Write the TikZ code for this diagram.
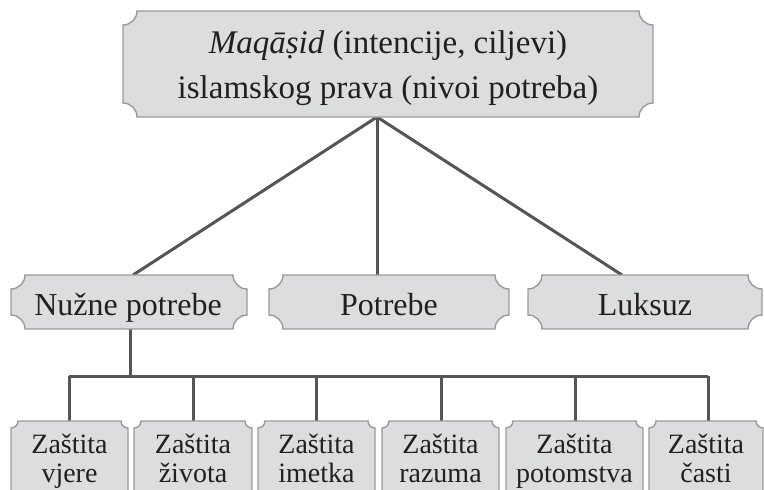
\documentclass[tikz,border=0pt]{standalone}
\usepackage{fontspec}
\setmainfont{Liberation Serif}
\definecolor{boxfill}{HTML}{DCDDDF}
\definecolor{boxedge}{HTML}{9A9A9A}
\definecolor{linkc}{HTML}{555557}
\definecolor{txt}{HTML}{231F20}
\newcommand\cbox[5]{\draw[boxline] (#1+#5,#2) -- (#3-#5,#2)
  .. controls (#3-#5,#2+0.55*#5) and (#3-0.55*#5,#2+#5) .. (#3,#2+#5) -- (#3,#4-#5)
  .. controls (#3-0.55*#5,#4-#5) and (#3-#5,#4-0.55*#5) .. (#3-#5,#4) -- (#1+#5,#4)
  .. controls (#1+#5,#4-0.55*#5) and (#1+0.55*#5,#4-#5) .. (#1,#4-#5) -- (#1,#2+#5)
  .. controls (#1+0.55*#5,#2+#5) and (#1+#5,#2+0.55*#5) .. cycle;}
\begin{document}
\begin{tikzpicture}[x=1pt,y=-1pt,
  boxline/.style={draw=boxedge,fill=boxfill,line width=1.4pt},
  link/.style={draw=linkc,line width=3pt},
  toptext/.style={anchor=base,inner sep=0pt,text=txt,font=\fontsize{33}{40}\selectfont},
  midtext/.style={anchor=base,inner sep=0pt,text=txt,font=\fontsize{32}{38}\selectfont},
  bottext/.style={anchor=base,inner sep=0pt,text=txt,font=\fontsize{28}{34}\selectfont}]
\useasboundingbox (0,0) rectangle (764,490);
\clip (0,0) rectangle (764,490);
% connection points
\coordinate (ts) at (377,117);
\coordinate (n1n) at (133,275);
\coordinate (n2n) at (377,275);
\coordinate (n3n) at (622,275);
\coordinate (n1s) at (130,329);
\coordinate (bus) at (130,376);
\coordinate (busl) at (69,376);
\coordinate (busr) at (708,376);
\coordinate (b1n) at (69,421);
\coordinate (b2n) at (193,421);
\coordinate (b3n) at (316,421);
\coordinate (b4n) at (441,421);
\coordinate (b5n) at (575,421);
\coordinate (b6n) at (708,421);
% connectors
\draw[link] (ts) -- (n1n);
\draw[link] (ts) -- (n2n);
\draw[link] (ts) -- (n3n);
\draw[link] (n1s) -- (bus);
\draw[link] (busl) -- (busr);
\foreach \b in {b1n,b2n,b3n,b4n,b5n,b6n}{\draw[link] (\b |- bus) -- (\b);}
% boxes
\cbox{123}{11}{653}{117}{14}
\cbox{11}{275}{247}{329}{14}
\cbox{269}{275}{509}{329}{14}
\cbox{528}{275}{762}{329}{14}
\cbox{11}{421}{128}{510}{7}
\cbox{134}{421}{252}{510}{7}
\cbox{258}{421}{375}{510}{7}
\cbox{382}{421}{499}{510}{7}
\cbox{506}{421}{643}{510}{7}
\cbox{649}{421}{763}{510}{7}
% texts
\node[toptext] (t1) at (388,53) {\textit{Maqāṣid} (intencije, ciljevi)};
\node[toptext] (t2) at (388,98) {islamskog prava (nivoi potreba)};
\node[midtext] (m1) at (128,315) {Nužne potrebe};
\node[midtext] (m2) at (389,315) {Potrebe};
\node[midtext] (m3) at (645,315) {Luksuz};
\node[bottext] (a1) at (69.5,453) {Zaštita};
\node[bottext] (a2) at (69.5,482) {vjere};
\node[bottext] (c1) at (193,453) {Zaštita};
\node[bottext] (c2) at (193,482) {života};
\node[bottext] (d1) at (316.5,453) {Zaštita};
\node[bottext] (d2) at (316.5,482) {imetka};
\node[bottext] (e1) at (440.5,453) {Zaštita};
\node[bottext] (e2) at (440.5,482) {razuma};
\node[bottext] (f1) at (574.5,453) {Zaštita};
\node[bottext] (f2) at (574.5,482) {potomstva};
\node[bottext] (g1) at (706,453) {Zaštita};
\node[bottext] (g2) at (706,482) {časti};
\end{tikzpicture}
\end{document}
